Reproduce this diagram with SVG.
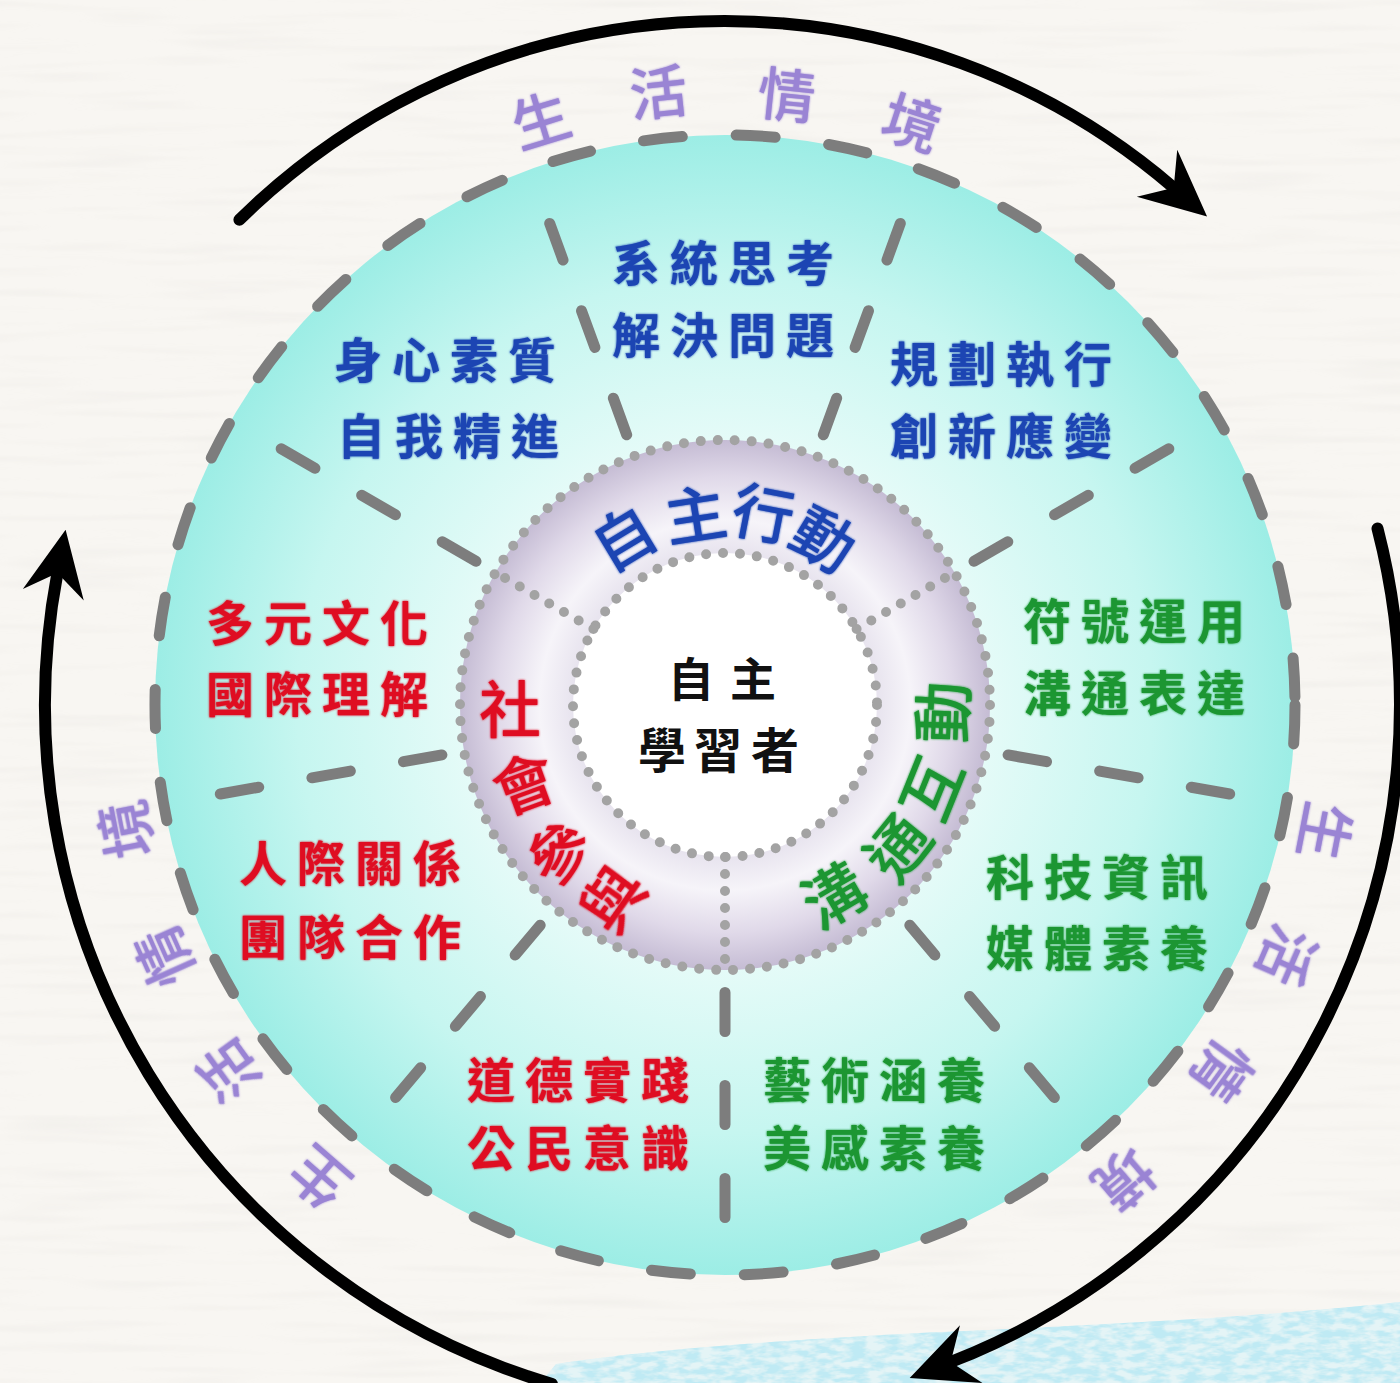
<svg xmlns="http://www.w3.org/2000/svg" width="1400" height="1383" viewBox="0 0 1400 1383">
  <defs>
    <style>
      .sec { font-family: "Noto Sans CJK TC", "Noto Sans CJK SC", sans-serif; font-size: 48px; font-weight: 700; text-anchor: middle; dominant-baseline: central; }
      .blue { fill: #1b44b3; }
      .red { fill: #df1020; }
      .green { fill: #1a9630; }
      .ring { font-family: "Noto Sans CJK TC", "Noto Sans CJK SC", sans-serif; font-size: 62px; font-weight: 500; text-anchor: middle; dominant-baseline: central; }
      .ctx { font-family: "Noto Sans CJK TC", "Noto Sans CJK SC", sans-serif; font-size: 58px; font-weight: 500; fill: #9a84d4; text-anchor: middle; dominant-baseline: central; }
      .core { font-family: "Noto Sans CJK TC", "Noto Sans CJK SC", sans-serif; font-weight: 700; fill: #111; text-anchor: middle; dominant-baseline: central; }
      .dash { fill: none; stroke: #7d7d7d; stroke-width: 11; stroke-linecap: round; stroke-dasharray: 39 54; }
      .dots { fill: none; stroke: #a3a3a3; stroke-width: 10; stroke-linecap: round; stroke-dasharray: 0 17; }
      .arrow { fill: none; stroke: #000; stroke-width: 12; stroke-linecap: round; marker-end: url(#ah); }
    </style>
    <radialGradient id="cyanGrad" gradientUnits="userSpaceOnUse" cx="725" cy="705" r="570">
      <stop offset="0" stop-color="#ffffff"/>
      <stop offset="0.45" stop-color="#e6fbf8"/>
      <stop offset="0.75" stop-color="#c6f6f0"/>
      <stop offset="1" stop-color="#9cede5"/>
    </radialGradient>
    <radialGradient id="ringGrad" gradientUnits="userSpaceOnUse" cx="725" cy="705" r="265">
      <stop offset="0.57" stop-color="#e7e3ee"/>
      <stop offset="0.70" stop-color="#f6f4f9"/>
      <stop offset="0.86" stop-color="#e0d9e9"/>
      <stop offset="1" stop-color="#c5bcd4"/>
    </radialGradient>
    <marker id="ah" markerUnits="userSpaceOnUse" markerWidth="100" markerHeight="100" refX="0" refY="0" orient="auto" overflow="visible">
      <path d="M44,0 L-22,-31 L0,0 L-22,31 Z" fill="#000"/>
    </marker>
    <filter id="paper" x="0" y="0" width="100%" height="100%">
      <feTurbulence type="fractalNoise" baseFrequency="0.006 0.09" numOctaves="2" seed="7"/>
      <feColorMatrix type="matrix" values="0 0 0 0 0.55  0 0 0 0 0.53  0 0 0 0 0.5  0 0 0 -0.25 0.13"/>
      <feComposite in2="SourceGraphic" operator="in"/>
    </filter>
    <filter id="wc" x="0" y="0" width="100%" height="100%">
      <feTurbulence type="fractalNoise" baseFrequency="0.06 0.16" numOctaves="3" seed="4"/>
      <feColorMatrix type="matrix" values="0 0 0 0 0.52  0 0 0 0 0.82  0 0 0 0 0.9  3.2 0 0 0 -1.1"/>
      <feComposite in2="SourceGraphic" operator="in"/>
    </filter>
    <filter id="glow" x="-20%" y="-20%" width="140%" height="140%">
      <feGaussianBlur in="SourceGraphic" stdDeviation="1.2" result="b"/>
      <feMerge><feMergeNode in="b"/><feMergeNode in="SourceGraphic"/></feMerge>
    </filter>
  </defs>

  <g id="background">
    <rect x="0" y="0" width="1400" height="1383" fill="#f8f6f2"/>
    <rect x="0" y="0" width="1400" height="1383" fill="#fff" filter="url(#paper)"/>
    <path d="M540,1383 L556,1364 C650,1350 760,1342 900,1334 C1080,1326 1250,1318 1400,1302 L1400,1383 Z" fill="#e4f4f6"/>
    <path d="M540,1383 L556,1364 C650,1350 760,1342 900,1334 C1080,1326 1250,1318 1400,1302 L1400,1383 Z" fill="#fff" filter="url(#wc)"/>
  </g>

  <g id="main-circle">
    <circle cx="725" cy="705" r="570" fill="url(#cyanGrad)"/>
  </g>

  <g id="spokes">
    <line class="dash" x1="1008.1" y1="754.9" x2="1229.7" y2="794.0"/>
    <line class="dash" x1="909.8" y1="925.2" x2="1054.4" y2="1097.6"/>
    <line class="dash" x1="725" y1="992.5" x2="725" y2="1217.5"/>
    <line class="dash" x1="540.2" y1="925.2" x2="395.6" y2="1097.6"/>
    <line class="dash" x1="441.9" y1="754.9" x2="220.3" y2="794.0"/>
    <line class="dash" x1="476.0" y1="561.3" x2="281.2" y2="448.8"/>
    <line class="dash" x1="626.7" y1="434.8" x2="549.7" y2="223.4"/>
    <line class="dash" x1="823.3" y1="434.8" x2="900.3" y2="223.4"/>
    <line class="dash" x1="974.0" y1="561.3" x2="1168.8" y2="448.8"/>
    <circle class="dash" cx="725" cy="705" r="570"/>
  </g>

  <g id="ring">
    <circle cx="725" cy="705" r="265" fill="url(#ringGrad)"/>
    <circle cx="725" cy="705" r="152" fill="#ffffff"/>
    <circle class="dots" cx="725" cy="705" r="265"/>
    <circle class="dots" cx="725" cy="705" r="152"/>
    <line class="dots" x1="725" y1="857" x2="725" y2="970"/>
    <line class="dots" x1="593.4" y1="629" x2="495.5" y2="572.5"/>
    <line class="dots" x1="856.6" y1="629" x2="954.5" y2="572.5"/>
  </g>

  <g id="core">
    <text class="core" font-size="46" x="691 753" y="676">自主</text>
    <text class="core" font-size="48" x="662 718 775" y="747">學習者</text>
  </g>

  <g id="label-action" class="ring blue" filter="url(#glow)">
    <text transform="translate(622,535) rotate(-31)">自</text>
    <text transform="translate(695,511) rotate(-9)">主</text>
    <text transform="translate(764,510) rotate(11)">行</text>
    <text transform="translate(826,536) rotate(31)">動</text>
  </g>
  <g id="label-social" class="ring red" filter="url(#glow)">
    <text transform="translate(510,706) rotate(0)">社</text>
    <text transform="translate(523,780) rotate(-20)">會</text>
    <text transform="translate(557,850) rotate(-40)">參</text>
    <text transform="translate(610,897) rotate(-55)">與</text>
  </g>
  <g id="label-communication" class="ring green" filter="url(#glow)">
    <text transform="translate(832,892) rotate(-30)">溝</text>
    <text transform="translate(895,845) rotate(-51)">通</text>
    <text transform="translate(928,787) rotate(-68)">互</text>
    <text transform="translate(939,712) rotate(-88)">動</text>
  </g>

  <g id="sector-1" class="sec blue" filter="url(#glow)">
    <text x="636 694 752 810" y="260">系統思考</text>
    <text x="636 694 752 810" y="332">解決問題</text>
  </g>
  <g id="sector-2" class="sec blue" filter="url(#glow)">
    <text x="358 416 474 532" y="357">身心素質</text>
    <text x="361 419 477 535" y="433">自我精進</text>
  </g>
  <g id="sector-3" class="sec blue" filter="url(#glow)">
    <text x="914 972 1030 1088" y="361">規劃執行</text>
    <text x="914 972 1030 1088" y="433">創新應變</text>
  </g>
  <g id="sector-4" class="sec red" filter="url(#glow)">
    <text x="230 288 346 404" y="620">多元文化</text>
    <text x="230 288 346 404" y="691">國際理解</text>
  </g>
  <g id="sector-5" class="sec green" filter="url(#glow)">
    <text x="1047 1105 1163 1221" y="618">符號運用</text>
    <text x="1047 1105 1163 1221" y="690">溝通表達</text>
  </g>
  <g id="sector-6" class="sec red" filter="url(#glow)">
    <text x="263 321 379 437" y="860">人際關係</text>
    <text x="263 321 379 437" y="934">團隊合作</text>
  </g>
  <g id="sector-7" class="sec green" filter="url(#glow)">
    <text x="1010 1068 1126 1184" y="874">科技資訊</text>
    <text x="1010 1068 1126 1184" y="945">媒體素養</text>
  </g>
  <g id="sector-8" class="sec red" filter="url(#glow)">
    <text x="491 549 607 665" y="1077">道德實踐</text>
    <text x="491 549 607 665" y="1145">公民意識</text>
  </g>
  <g id="sector-9" class="sec green" filter="url(#glow)">
    <text x="787 845 903 961" y="1077">藝術涵養</text>
    <text x="787 845 903 961" y="1145">美感素養</text>
  </g>

  <g id="context-top" class="ctx" filter="url(#glow)">
    <text transform="translate(540,117) rotate(-17)">生</text>
    <text transform="translate(658,89) rotate(-6)">活</text>
    <text transform="translate(787,92) rotate(6)">情</text>
    <text transform="translate(913,120) rotate(18)">境</text>
  </g>
  <g id="context-right" class="ctx" filter="url(#glow)">
    <text transform="translate(1328,832) rotate(101)">生</text>
    <text transform="translate(1290,957) rotate(113.5)">活</text>
    <text transform="translate(1225,1072) rotate(126)">情</text>
    <text transform="translate(1126,1182) rotate(139.5)">境</text>
  </g>
  <g id="context-left" class="ctx" filter="url(#glow)">
    <text transform="translate(317,1180) rotate(221)">生</text>
    <text transform="translate(226,1073) rotate(234)">活</text>
    <text transform="translate(162,958) rotate(246)">情</text>
    <text transform="translate(123,830) rotate(259)">境</text>
  </g>

  <g id="connectors">
    <path class="arrow" d="M239.4,219.8 A690,690 0 0 1 1173.7,187.7"/>
    <path class="arrow" d="M1377.5,528.5 A705,705 0 0 1 950.7,1362"/>
    <path class="arrow" d="M552,1384 A708,708 0 0 1 57.4,573.1"/>
  </g>
</svg>
